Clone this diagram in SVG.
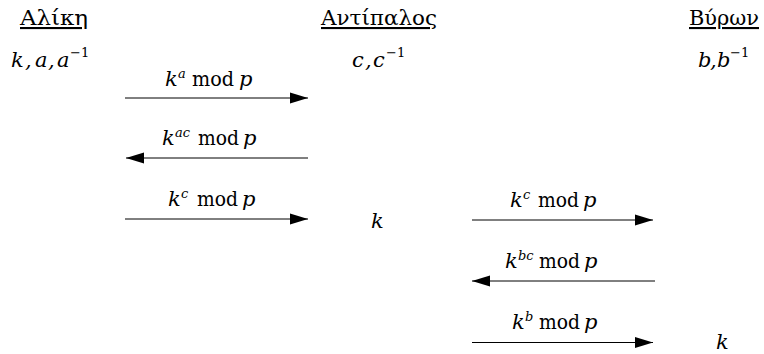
<svg xmlns="http://www.w3.org/2000/svg" width="764" height="354" viewBox="0 0 764 354">
<style>
text{font-family:"DejaVu Serif","Noto Serif",serif;fill:#000}
.h{font-size:21px;text-decoration:underline}
.m{font-size:21px;font-style:italic}
.up{font-style:normal}
.sup{font-size:13px}
.ln{stroke:#000;stroke-width:1;fill:none}
</style>
<defs>
<marker id="ah" markerUnits="userSpaceOnUse" markerWidth="18" markerHeight="12" refX="18" refY="6" orient="auto">
<polygon points="0,0.5 18,6 0,11.5" fill="#000"/>
</marker>
</defs>
<rect width="764" height="354" fill="#fff"/>
<g id="alice">
<text class="h" x="20" y="25" textLength="68" lengthAdjust="spacingAndGlyphs">Αλίκη</text>
<text class="m" y="67"><tspan x="11">k</tspan><tspan x="25">,</tspan><tspan x="35">a</tspan><tspan x="48">,</tspan><tspan x="57">a</tspan><tspan class="up sup" x="70" dy="-10">−1</tspan></text>
</g>
<g id="adversary">
<text class="h" x="321" y="25" textLength="116" lengthAdjust="spacingAndGlyphs">Αντίπαλος</text>
<text class="m" y="67"><tspan x="352">c</tspan><tspan x="365">,</tspan><tspan x="373">c</tspan><tspan class="up sup" x="386" dy="-10">−1</tspan></text>
<text class="m" x="371" y="228">k</text>
</g>
<g id="byron">
<text class="h" x="689" y="25" textLength="70" lengthAdjust="spacingAndGlyphs">Βύρων</text>
<text class="m" y="67"><tspan x="698">b</tspan><tspan x="710">,</tspan><tspan x="717">b</tspan><tspan class="up sup" x="730" dy="-10">−1</tspan></text>
<text class="m" x="716" y="349">k</text>
</g>
<g id="labels">
<text class="m" y="86"><tspan x="165">k</tspan><tspan class="sup" x="178" dy="-8">a</tspan></text>
<text class="m up" x="192" y="86" textLength="42" lengthAdjust="spacingAndGlyphs">mod</text>
<text class="m" x="239" y="86">p</text>
<text class="m" y="145"><tspan x="162">k</tspan><tspan class="sup" x="175" dy="-8">ac</tspan></text>
<text class="m up" x="198" y="145" textLength="41" lengthAdjust="spacingAndGlyphs">mod</text>
<text class="m" x="243" y="145">p</text>
<text class="m" y="206"><tspan x="168">k</tspan><tspan class="sup" x="181" dy="-8">c</tspan></text>
<text class="m up" x="197" y="206" textLength="41" lengthAdjust="spacingAndGlyphs">mod</text>
<text class="m" x="242" y="206">p</text>
<text class="m" y="207"><tspan x="510">k</tspan><tspan class="sup" x="523" dy="-8">c</tspan></text>
<text class="m up" x="538" y="207" textLength="41" lengthAdjust="spacingAndGlyphs">mod</text>
<text class="m" x="583" y="207">p</text>
<text class="m" y="268"><tspan x="505">k</tspan><tspan class="sup" x="518" dy="-8">bc</tspan></text>
<text class="m up" x="539" y="268" textLength="41" lengthAdjust="spacingAndGlyphs">mod</text>
<text class="m" x="584" y="268">p</text>
<text class="m" y="329"><tspan x="512">k</tspan><tspan class="sup" x="525" dy="-8">b</tspan></text>
<text class="m up" x="539" y="329" textLength="41" lengthAdjust="spacingAndGlyphs">mod</text>
<text class="m" x="584" y="329">p</text>
</g>
<g id="connectors">
<line class="ln" x1="125" y1="98" x2="308" y2="98" marker-end="url(#ah)"/>
<line class="ln" x1="308" y1="158" x2="126" y2="158" marker-end="url(#ah)"/>
<line class="ln" x1="125" y1="219" x2="308" y2="219" marker-end="url(#ah)"/>
<line class="ln" x1="472" y1="220" x2="653" y2="220" marker-end="url(#ah)"/>
<line class="ln" x1="655" y1="281" x2="472" y2="281" marker-end="url(#ah)"/>
<line class="ln" x1="472" y1="342.5" x2="653" y2="342.5" marker-end="url(#ah)"/>
</g>
</svg>
